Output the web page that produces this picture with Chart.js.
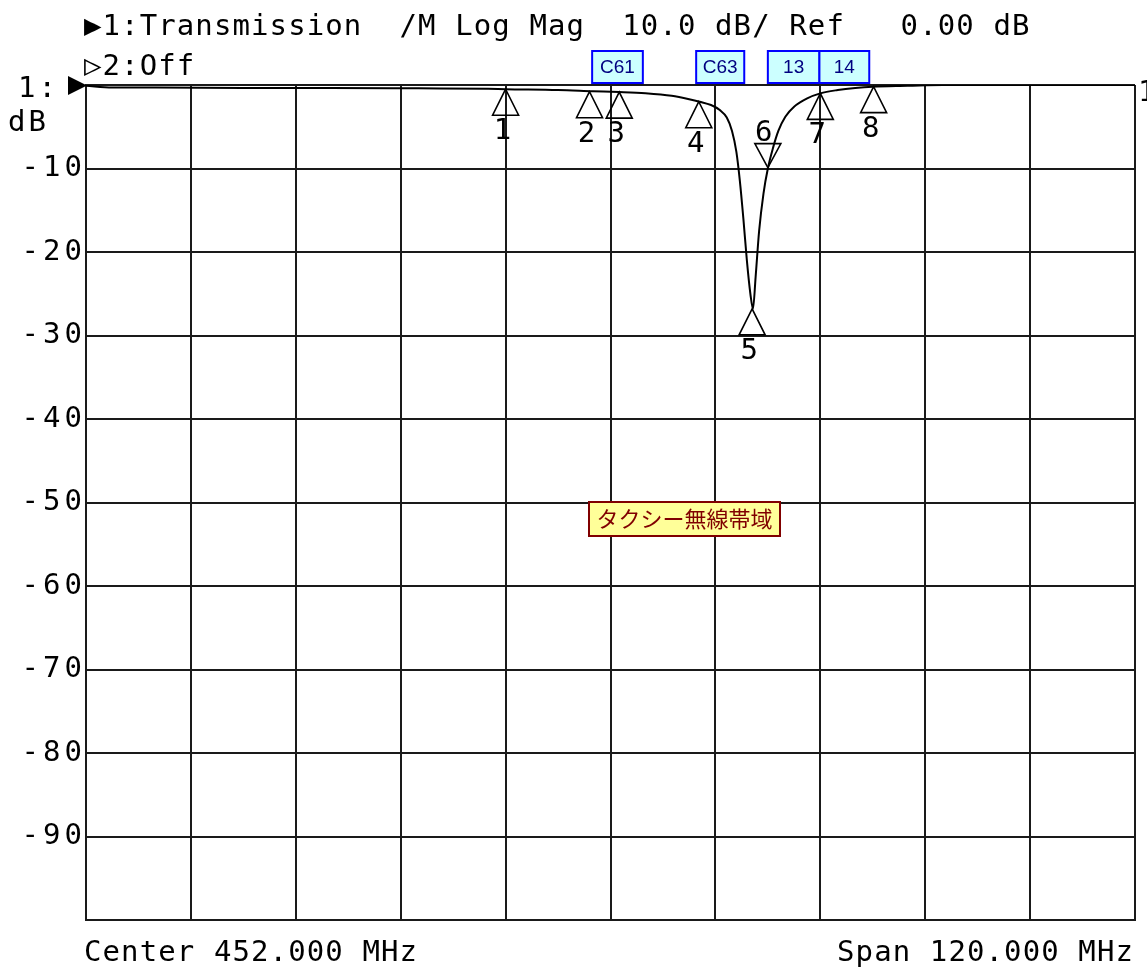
<!DOCTYPE html>
<html>
<head>
<meta charset="utf-8">
<script src="https://cdn.jsdelivr.net/npm/chart.js@4.4.1/dist/chart.umd.min.js"></script>
<style>
  body { margin: 0; background: #fff; }
  #wrap { width: 1147px; height: 967px; }
</style>
</head>
<body>
<div id="wrap"><canvas id="vna"></canvas></div>
<script>
// trace 1 (MHz / dB)
const traceFreq = [392, 395, 400, 410, 420, 430, 438, 440, 446, 450, 453, 456, 459, 461, 462.2, 463.5, 464.5,
    465.3, 465.9, 466.4, 466.8, 467.2, 467.6, 468.0, 468.3, 468.6, 469.0, 469.5, 470.0, 470.6, 471.2,
    472.0, 473.0, 474.5, 476.0, 478.0, 480.0, 482.0, 486, 490, 500, 512];
const traceDb = [-0.1, -0.3, -0.3, -0.35, -0.35, -0.4, -0.45, -0.5, -0.6, -0.75, -0.85, -1.0, -1.3, -1.7, -2.0, -2.4, -3.0,
    -3.9, -5.5, -8.0, -11.5, -16, -21, -25, -26.8, -23, -17.5, -13, -10, -7.5, -5.5,
    -3.8, -2.6, -1.6, -1.0, -0.6, -0.35, -0.2, -0.1, 0, 0, 0];

// markers
const markerNames = ['1', '2', '3', '4', '5', '6', '7', '8'];
const markerFreq = [440, 449.6, 453, 462.1, 468.2, 470, 476, 482.1];
const markerDb = [-0.5, -0.8, -0.85, -2.0, -26.8, -9.9, -1.0, -0.2];
const markerDown = [false, false, false, false, false, true, false, false];

// grid: 10 div x 12 MHz, 10 div x 10 dB
const freqGrid = [392, 404, 416, 428, 440, 452, 464, 476, 488, 500, 512];
const dbTicks = [0, -10, -20, -30, -40, -50, -60, -70, -80, -90, -100];

// blue channel tags over the top edge, [label, freq from, freq to]
const tags = [['C61', 449.9, 455.7], ['C63', 461.8, 467.3], ['13', 470, 475.9], ['14', 475.9, 481.6]];

const MONO = '"DejaVu Sans Mono", "Liberation Mono", monospace';

const overlay = {
    id: 'overlay',
    beforeDraw(chart) {
        // wide spacing of the analyzer font, also picked up by the tick labels
        chart.ctx.letterSpacing = '4px';
    },
    afterDatasetsDraw(chart) {
        const ctx = chart.ctx;
        const meta = chart.getDatasetMeta(1);
        ctx.save();
        ctx.letterSpacing = '0px';
        ctx.strokeStyle = '#000';
        ctx.fillStyle = '#000';
        ctx.lineWidth = 1.6;
        ctx.font = '29px ' + MONO;
        ctx.textAlign = 'center';
        meta.data.forEach(function(pt, i) {
            const x = pt.x, y = pt.y;
            ctx.beginPath();
            if (markerDown[i]) {
                ctx.moveTo(x, y);
                ctx.lineTo(x - 13, y - 24);
                ctx.lineTo(x + 13, y - 24);
            } else {
                ctx.moveTo(x, y);
                ctx.lineTo(x - 13, y + 26);
                ctx.lineTo(x + 13, y + 26);
            }
            ctx.closePath();
            ctx.stroke();
            if (markerDown[i]) {
                ctx.fillText(markerNames[i], x - 4, y - 27);
            } else {
                ctx.fillText(markerNames[i], x - 3, y + 50);
            }
        });
        ctx.restore();
    },
    afterDraw(chart) {
        const ctx = chart.ctx;
        const xs = chart.scales.x;
        const top = chart.chartArea.top;
        ctx.save();
        ctx.fillStyle = '#000';
        ctx.font = '29px ' + MONO;
        ctx.letterSpacing = '1.1px';
        ctx.textAlign = 'left';
        ctx.fillText('\u25B61:Transmission  /M Log Mag  10.0 dB/ Ref   0.00 dB', 84, 35);
        ctx.fillText('\u25B72:Off', 84, 75);
        ctx.fillText('Center 452.000 MHz', 84, 961);
        ctx.textAlign = 'right';
        ctx.fillText('Span 120.000 MHz', 1134, 961);
        ctx.textAlign = 'left';
        ctx.letterSpacing = '3px';
        ctx.fillText('1:', 18, 97);
        ctx.fillText('dB', 8, 131);
        ctx.letterSpacing = '0px';
        ctx.fillText('1', 1138, 101);

        // reference arrow for trace 1
        ctx.beginPath();
        ctx.moveTo(68, 76);
        ctx.lineTo(68, 95);
        ctx.lineTo(87, 85.5);
        ctx.closePath();
        ctx.fill();

        // channel tags
        ctx.font = '19px "Liberation Sans", Arial, sans-serif';
        ctx.textAlign = 'center';
        ctx.textBaseline = 'middle';
        tags.forEach(function(t) {
            const x0 = xs.getPixelForValue(t[1]);
            const x1 = xs.getPixelForValue(t[2]);
            ctx.fillStyle = '#ccffff';
            ctx.fillRect(x0, top - 34, x1 - x0, 32);
            ctx.strokeStyle = '#0000ff';
            ctx.lineWidth = 2;
            ctx.strokeRect(x0, top - 34, x1 - x0, 32);
            ctx.fillStyle = '#000080';
            ctx.fillText(t[0], (x0 + x1) / 2, top - 17);
        });

        // band note
        ctx.fillStyle = '#ffff99';
        ctx.fillRect(589, 502, 191, 34);
        ctx.strokeStyle = '#800000';
        ctx.lineWidth = 2;
        ctx.strokeRect(589, 502, 191, 34);
        ctx.fillStyle = '#800000';
        ctx.font = '22px "Noto Sans CJK JP", sans-serif';
        ctx.fillText('タクシー無線帯域', 684.5, 519);
        ctx.restore();
    }
};

new Chart(document.getElementById('vna'), {
    type: 'line',
    data: {
        datasets: [{
            label: 'Transmission',
            data: traceFreq.map((f, i) => ({ x: f, y: traceDb[i] })),
            borderColor: '#000',
            borderWidth: 2,
            pointRadius: 0,
            cubicInterpolationMode: 'monotone',
            fill: false
        }, {
            label: 'Markers',
            data: markerFreq.map((f, i) => ({ x: f, y: markerDb[i] })),
            showLine: false,
            pointRadius: 0
        }]
    },
    options: {
        responsive: true,
        maintainAspectRatio: false,
        animation: false,
        layout: { padding: { top: 85, right: 12, bottom: 47, left: 0 } },
        plugins: {
            legend: { display: false },
            title: { display: false },
            tooltip: { enabled: false }
        },
        scales: {
            x: {
                type: 'linear',
                min: 392,
                max: 512,
                afterBuildTicks: function(scale) {
                    scale.ticks = freqGrid.map(v => ({ value: v }));
                },
                afterFit: function(scale) { scale.height = 0; },
                ticks: { display: false },
                grid: { color: '#1a1a1a', lineWidth: 2, drawTicks: false },
                border: { color: '#1a1a1a', width: 2 }
            },
            y: {
                min: -100,
                max: 0,
                afterBuildTicks: function(scale) {
                    scale.ticks = dbTicks.map(v => ({ value: v }));
                },
                afterFit: function(scale) { scale.width = 86; },
                ticks: {
                    padding: 0,
                    color: '#000',
                    font: { family: MONO, size: 29 },
                    callback: function(value) {
                        return (value === 0 || value === -100) ? '' : String(value);
                    }
                },
                grid: { color: '#1a1a1a', lineWidth: 2, drawTicks: false },
                border: { color: '#1a1a1a', width: 2 }
            }
        }
    },
    plugins: [overlay]
});
</script>
</body>
</html>
